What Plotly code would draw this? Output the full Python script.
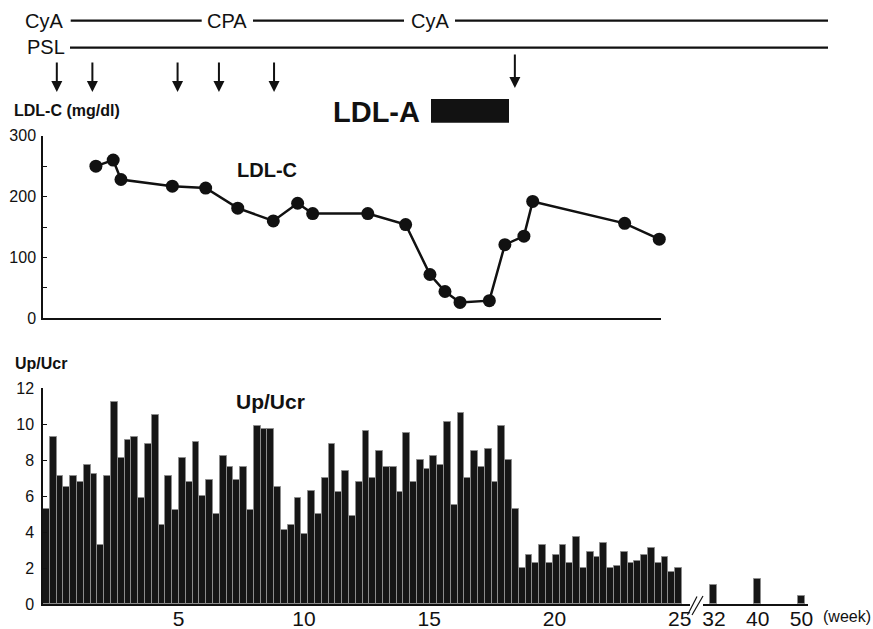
import plotly.graph_objects as go

W, H = 873, 629
FONT = "Liberation Sans, Arial, Helvetica, sans-serif"

# ---------------- data ----------------
# Up/Ucr, sampled roughly every 2 days from week ~0 to week 25
upucr_first_week = -0.275
upucr_step_week = 0.2713
upucr_values = [
    5.3, 9.3, 7.1, 6.5, 7.1, 6.8, 7.7, 7.2, 3.3, 7.1,
    11.2, 8.1, 9.1, 9.3, 5.9, 8.9, 10.5, 4.4, 7.1, 5.2,
    8.1, 6.8, 9.0, 6.0, 6.9, 5.0, 8.2, 7.6, 6.9, 7.6,
    5.2, 9.9, 9.7, 9.7, 6.5, 4.1, 4.4, 5.9, 3.9, 6.3,
    5.0, 7.0, 8.9, 6.2, 7.4, 4.9, 6.8, 9.6, 7.0, 8.5,
    7.6, 7.6, 6.2, 9.5, 6.8, 8.0, 7.5, 8.2, 7.7, 10.1,
    5.5, 10.6, 7.0, 8.5, 7.6, 8.6, 6.8, 9.9, 8.0, 5.3,
    2.0, 2.7, 2.3, 3.3, 2.3, 2.7, 3.3, 2.3, 3.7, 2.0,
    2.9, 2.6, 3.4, 2.0, 2.1, 2.9, 2.3, 2.4, 2.7, 3.1,
    2.3, 2.6, 1.8, 2.0,
]
late_weeks = ["32", "40", "50"]
late_values = [1.05, 1.4, 0.45]

# LDL-C (mg/dl)
ldl_weeks = [1.70, 2.39, 2.70, 4.75, 6.08, 7.36, 8.78, 9.75, 10.35, 12.55,
             14.06, 15.03, 15.63, 16.23, 17.40, 18.02, 18.78, 19.13, 22.80, 24.18]
ldl_values = [250, 260, 228, 217, 214, 181, 160, 189, 172, 172,
              154, 72, 44, 26, 29, 121, 135, 192, 156, 130]

# LDL-A sessions (arrows)
arrow_weeks_early = [0.14, 1.56, 4.96, 6.61, 8.81]
arrow_weeks_late = [18.42]

week_ticks = [5, 10, 15, 20, 25]
ldl_tickvals = [0, 50, 100, 150, 200, 250, 300]
ldl_ticktext = ["0", "", "100", "", "200", "", "300"]

upucr_weeks = [upucr_first_week + i * upucr_step_week for i in range(len(upucr_values))]


def px(x):
    return x / W


def py(y):
    return 1 - y / H


fig = go.Figure()

fig.add_trace(go.Bar(
    x=upucr_weeks, y=upucr_values, width=upucr_step_week,
    marker=dict(color="#161616", line=dict(color="#8c8c8c", width=1)),
    xaxis="x", yaxis="y", showlegend=False,
))
fig.add_trace(go.Bar(
    x=late_weeks, y=late_values, width=0.16,
    marker=dict(color="#161616", line=dict(color="#8c8c8c", width=1)),
    xaxis="x3", yaxis="y", showlegend=False,
))
fig.add_trace(go.Scatter(
    x=ldl_weeks, y=ldl_values, mode="lines+markers",
    line=dict(color="#111111", width=2.5),
    marker=dict(color="#111111", size=13),
    xaxis="x2", yaxis="y2", showlegend=False, cliponaxis=False,
))

axis_common = dict(showgrid=False, zeroline=False, linecolor="#111111",
                   color="#111111", automargin=False)

fig.update_layout(
    width=W, height=H, autosize=False,
    margin=dict(l=0, r=0, t=0, b=0, pad=0),
    paper_bgcolor="white", plot_bgcolor="white",
    font=dict(family=FONT, color="#111111"),
    bargap=0,
    xaxis=dict(domain=[px(43), px(690)], range=[-0.411, 25.41], anchor="y",
               showline=True, linewidth=2, ticks="", tickvals=week_ticks,
               tickfont=dict(size=21), ticklabelstandoff=-5, **axis_common),
    yaxis=dict(domain=[py(604), py(388)], range=[0, 12], anchor="x",
               showline=True, linewidth=1.5, ticks="inside", ticklen=4,
               tickvals=[0, 2, 4, 6, 8, 10, 12], tickfont=dict(size=16),
               ticklabelstandoff=4, **axis_common),
    xaxis2=dict(domain=[px(43), px(661)], range=[-0.411, 24.25], anchor="y2",
                showline=True, linewidth=2, ticks="", showticklabels=False,
                **axis_common),
    yaxis2=dict(domain=[py(318.3), py(135.7)], range=[0, 300], anchor="x2",
                showline=True, linewidth=1.5, ticks="inside", ticklen=4,
                tickvals=ldl_tickvals, ticktext=ldl_ticktext,
                tickfont=dict(size=16), ticklabelstandoff=2, **axis_common),
    xaxis3=dict(domain=[px(703), px(808)], type="category", range=[-0.25, 2.15],
                anchor="y", showline=True, linewidth=2, ticks="",
                tickfont=dict(size=21), ticklabelstandoff=-5, **axis_common),
)

shapes = []
# treatment timeline lines
for x0, x1, y in [(70.7, 201.7, 20.7), (253, 404, 20.7), (455, 828, 20.7), (70, 828, 47.7)]:
    shapes.append(dict(type="line", xref="paper", yref="paper",
                       x0=px(x0), x1=px(x1), y0=py(y), y1=py(y),
                       line=dict(color="#111111", width=2.2)))
# LDL-A black box
shapes.append(dict(type="rect", xref="paper", yref="paper",
                   x0=px(431), x1=px(509), y0=py(122.7), y1=py(99),
                   fillcolor="#121212", line=dict(width=0)))
# axis break marks
for x0, y0, x1, y1 in [(687.5, 615, 697, 596.5), (692, 615, 703, 596)]:
    shapes.append(dict(type="line", xref="paper", yref="paper",
                       x0=px(x0), y0=py(y0), x1=px(x1), y1=py(y1),
                       line=dict(color="#111111", width=1.2)))
fig.update_layout(shapes=shapes)

ann = []


def label(text, x, y, size, bold=False, xanchor="center"):
    ann.append(dict(text=f"<b>{text}</b>" if bold else text, xref="paper", yref="paper",
                    x=px(x), y=py(y), xanchor=xanchor, yanchor="middle",
                    showarrow=False, font=dict(size=size, family=FONT, color="#111111")))


label("CyA", 44, 20.5, 20)
label("CPA", 226.5, 20.5, 20)
label("CyA", 430, 20.5, 20)
label("PSL", 46, 47.5, 20)
label("LDL-C (mg/dl)", 12, 110, 16, bold=True, xanchor="left")
label("LDL-A", 376.5, 112, 29, bold=True)
label("LDL-C", 267, 170, 20, bold=True)
label("Up/Ucr", 13, 363, 16, bold=True, xanchor="left")
label("Up/Ucr", 270, 401.5, 21, bold=True)
label("(week)", 847, 616.5, 16)

for wk in arrow_weeks_early:
    ann.append(dict(x=wk, y=py(92), xref="x", yref="paper", text="", showarrow=True,
                    axref="pixel", ayref="pixel", ax=0, ay=-31,
                    arrowhead=2, arrowsize=1.1, arrowwidth=2, arrowcolor="#111111"))
for wk in arrow_weeks_late:
    ann.append(dict(x=wk, y=py(88), xref="x", yref="paper", text="", showarrow=True,
                    axref="pixel", ayref="pixel", ax=0, ay=-35,
                    arrowhead=2, arrowsize=1.1, arrowwidth=2, arrowcolor="#111111"))
fig.update_layout(annotations=ann)

fig.write_html(
    "out.html",
    config={"displayModeBar": False},
    post_script="document.body.style.margin='0';document.body.style.padding='0';"
                "document.body.style.overflow='hidden';",
)
